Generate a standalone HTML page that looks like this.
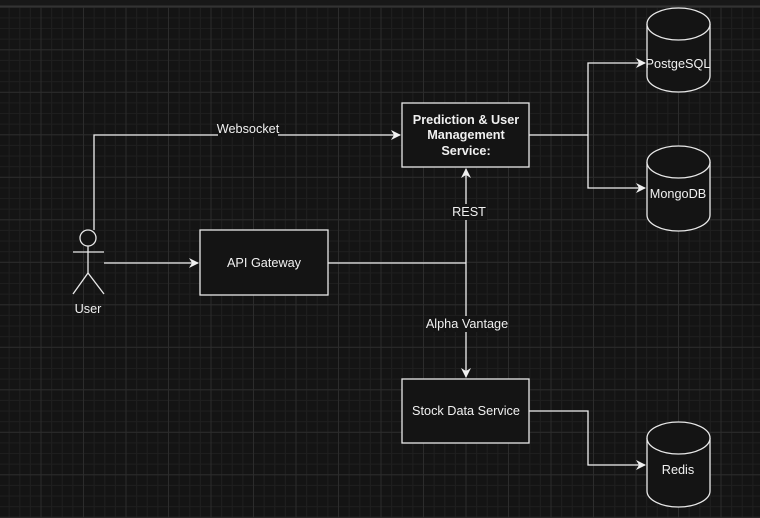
<!DOCTYPE html>
<html><head><meta charset="utf-8"><style>
html,body{margin:0;padding:0;background:#141414;}
svg{display:block;}
text{font-family:"Liberation Sans",Arial,sans-serif;fill:#f0f0f0;}
</style></head><body>
<svg width="760" height="518" viewBox="0 0 760 518" xmlns="http://www.w3.org/2000/svg">
<defs>
<pattern id="minor" x="40.5" y="6.8" width="10.625" height="10.625" patternUnits="userSpaceOnUse">
<path d="M0 0.5H10.625M0.5 0V10.625" stroke="#1f1f1f" stroke-width="1" fill="none"/>
</pattern>
<pattern id="major" x="40.5" y="6.8" width="42.5" height="42.5" patternUnits="userSpaceOnUse">
<path d="M0 0.5H42.5M0.5 0V42.5" stroke="#2c2c2c" stroke-width="1" fill="none"/>
</pattern>
<marker id="ah" markerWidth="10" markerHeight="10" refX="9" refY="5" orient="auto" markerUnits="userSpaceOnUse">
<path d="M0,0 L10,5 L0,10 L3,5 Z" fill="#f0f0f0"/>
</marker>
</defs>
<rect width="760" height="518" fill="#141414"/>
<rect y="7" width="760" height="511" fill="url(#minor)"/>
<rect y="7" width="760" height="511" fill="url(#major)"/>
<rect width="760" height="6" fill="#181818"/>
<rect y="5.5" width="760" height="1.5" fill="#333"/>

<g stroke="#f0f0f0" stroke-width="1.3" fill="none">
<polyline points="94,230 94,135 400,135" marker-end="url(#ah)"/>
<line x1="104" y1="263" x2="198" y2="263" marker-end="url(#ah)"/>
<line x1="328" y1="263" x2="466" y2="263"/>
<line x1="466" y1="263" x2="466" y2="169" marker-end="url(#ah)"/>
<line x1="466" y1="263" x2="466" y2="377" marker-end="url(#ah)"/>
<line x1="529" y1="135" x2="588" y2="135"/>
<polyline points="588,135 588,63 645,63" marker-end="url(#ah)"/>
<polyline points="588,135 588,188 645,188" marker-end="url(#ah)"/>
<polyline points="529,411 588,411 588,465 645,465" marker-end="url(#ah)"/>
</g>

<rect x="218" y="121" width="60" height="16" fill="#141414"/>
<rect x="451" y="204" width="36" height="16" fill="#141414"/>
<rect x="426" y="316" width="82" height="16" fill="#141414"/>
<g font-size="12.7">
<text x="248" y="133" text-anchor="middle">Websocket</text>
<text x="469" y="216" text-anchor="middle">REST</text>
<text x="467" y="328" text-anchor="middle">Alpha Vantage</text>
</g>

<g stroke="#e8e8e8" stroke-width="1.3" fill="#141414">
<rect x="402" y="103" width="127" height="64"/>
<rect x="200" y="230" width="128" height="65"/>
<rect x="402" y="379" width="127" height="64"/>
</g>
<g font-size="12.7">
<text x="466" y="124" font-weight="bold" text-anchor="middle">Prediction &amp; User</text>
<text x="466" y="139" font-weight="bold" text-anchor="middle">Management</text>
<text x="466" y="155" font-weight="bold" text-anchor="middle">Service:</text>
<text x="264" y="267" text-anchor="middle">API Gateway</text>
<text x="466" y="415" text-anchor="middle">Stock Data Service</text>
</g>

<g stroke="#e8e8e8" stroke-width="1.3" fill="#141414">
<path d="M647,24 L647,76 A31.5,16 0 0 0 710,76 L710,24 A31.5,16 0 0 0 647,24 Z"/>
<path d="M647,24 A31.5,16 0 0 0 710,24"/>
<path d="M647,162 L647,215 A31.5,16 0 0 0 710,215 L710,162 A31.5,16 0 0 0 647,162 Z"/>
<path d="M647,162 A31.5,16 0 0 0 710,162"/>
<path d="M647,438 L647,491 A31.5,16 0 0 0 710,491 L710,438 A31.5,16 0 0 0 647,438 Z"/>
<path d="M647,438 A31.5,16 0 0 0 710,438"/>
</g>
<g font-size="12.7">
<text x="678" y="68" text-anchor="middle">PostgeSQL</text>
<text x="678" y="198" text-anchor="middle">MongoDB</text>
<text x="678" y="474" text-anchor="middle">Redis</text>
</g>

<g stroke="#e8e8e8" stroke-width="1.3" fill="#141414">
<circle cx="88" cy="238" r="8"/>
<line x1="88" y1="246" x2="88" y2="273"/>
<line x1="73" y1="252" x2="104" y2="252"/>
<polyline points="73,294 88,273 104,294" fill="none"/>
</g>
<text x="88" y="313" font-size="12.7" text-anchor="middle">User</text>
</svg>
</body></html>
